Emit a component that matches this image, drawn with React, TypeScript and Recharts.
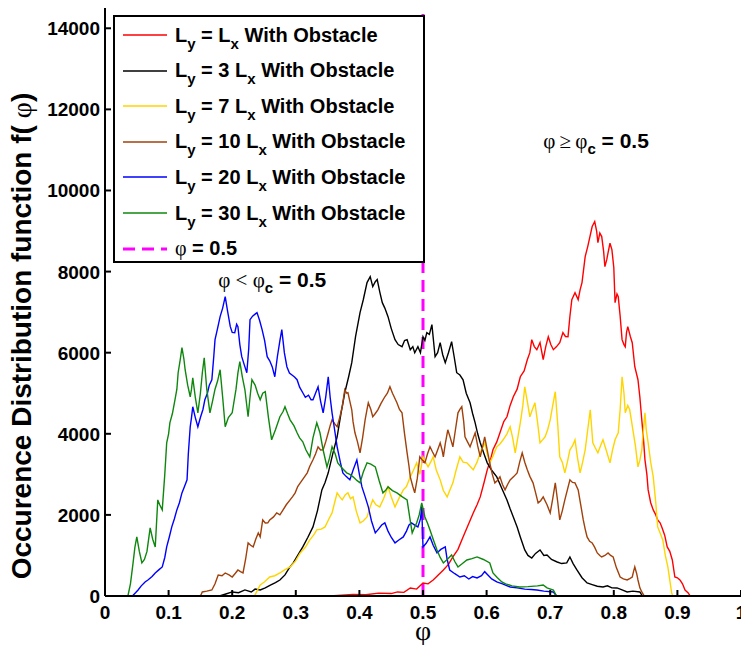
import React from 'react'
import { LineChart, Line, XAxis, YAxis, ReferenceLine, ReferenceDot, Legend } from 'recharts'

type Pt = [number, number]

const FONT = '"Liberation Sans", Arial, Helvetica, sans-serif'
const SYMBOL_FONT = '"Liberation Serif", "DejaVu Serif", serif'

const X_TICKS = [0, 0.1, 0.2, 0.3, 0.4, 0.5, 0.6, 0.7, 0.8, 0.9, 1]
const Y_TICKS = [0, 2000, 4000, 6000, 8000, 10000, 12000, 14000]
const Y_MAX = 14500
const PHI_C = 0.5

// occurrence counts f(phi) per channel aspect ratio, [phi, f]
const lyEq1: Pt[] = [
  [0, 0], [0.24, 0], [0.3, 0], [0.36, 10], [0.39, 40], [0.41, 30], [0.43, 70], [0.45, 60], [0.46, 100],
  [0.47, 90], [0.48, 198], [0.49, 170], [0.5, 321], [0.508, 300], [0.516, 395], [0.524, 520], [0.532, 642],
  [0.54, 780], [0.547, 963], [0.555, 1150], [0.563, 1457], [0.571, 1750], [0.579, 2049], [0.585, 2250],
  [0.59, 2444], [0.596, 2800], [0.601, 3111], [0.606, 3350], [0.61, 3605], [0.616, 3800], [0.621, 4025],
  [0.627, 4300], [0.632, 4420], [0.637, 4700], [0.642, 4913], [0.648, 5100], [0.653, 5407], [0.659, 5550],
  [0.664, 5827], [0.668, 6000], [0.671, 6321], [0.675, 6150], [0.679, 6074], [0.684, 6250], [0.689, 5827],
  [0.693, 6150], [0.697, 6395], [0.701, 6200], [0.705, 6074], [0.71, 6150], [0.715, 6247], [0.72, 6494],
  [0.724, 6400], [0.728, 6395], [0.731, 6900], [0.734, 7308], [0.739, 7481], [0.744, 7308], [0.747, 7550],
  [0.75, 7728], [0.755, 8370], [0.759, 8617], [0.763, 8900], [0.766, 9111], [0.77, 9234], [0.773, 9000],
  [0.775, 8716], [0.778, 8950], [0.781, 8864], [0.784, 8500], [0.786, 8123], [0.789, 8300], [0.791, 8469],
  [0.794, 8700], [0.797, 8543], [0.8, 8100], [0.802, 7234], [0.805, 7450], [0.807, 7382], [0.81, 6900],
  [0.813, 6321], [0.816, 6200], [0.818, 6148], [0.82, 6500], [0.822, 6642], [0.826, 6400], [0.829, 6247],
  [0.833, 5654], [0.838, 5333], [0.841, 4900], [0.844, 4345], [0.847, 3800], [0.849, 3358], [0.852, 3000],
  [0.854, 2617], [0.858, 2300], [0.862, 2123], [0.866, 2000], [0.869, 1876], [0.873, 1800], [0.876, 1679],
  [0.88, 1500], [0.884, 1210], [0.888, 1100], [0.892, 889], [0.896, 469], [0.9, 450], [0.904, 395],
  [0.908, 300], [0.912, 148], [0.917, 74], [0.92, 0], [1, 0],
]

const lyEq3: Pt[] = [
  [0, 0], [0.18, 0], [0.19, 50], [0.2, 100], [0.21, 80], [0.22, 150], [0.23, 100], [0.236, 170], [0.244, 148],
  [0.252, 200], [0.26, 270], [0.268, 330], [0.275, 395], [0.283, 520], [0.29, 700], [0.296, 815], [0.303, 1000],
  [0.311, 1210], [0.319, 1450], [0.327, 1704], [0.334, 2100], [0.341, 2617], [0.346, 2800], [0.351, 3037],
  [0.358, 3500], [0.365, 3926], [0.371, 4500], [0.377, 5012], [0.383, 5400], [0.388, 5753], [0.394, 6400],
  [0.401, 6988], [0.406, 7300], [0.412, 7728], [0.417, 7876], [0.421, 7629], [0.425, 7750], [0.428, 7802],
  [0.432, 7500], [0.436, 7234], [0.44, 7100], [0.445, 6889], [0.45, 6600], [0.456, 6321], [0.461, 6200],
  [0.467, 6148], [0.471, 6300], [0.475, 6321], [0.48, 6074], [0.484, 6150], [0.487, 5999], [0.492, 6148],
  [0.496, 6000], [0.5, 6395], [0.503, 6300], [0.506, 6494], [0.51, 6450], [0.514, 6691], [0.519, 5901],
  [0.523, 6000], [0.527, 6247], [0.531, 5950], [0.535, 5753], [0.54, 6000], [0.545, 6271], [0.549, 5900],
  [0.553, 5506], [0.558, 5450], [0.563, 5333], [0.568, 5000], [0.574, 4765], [0.578, 4500], [0.582, 4271],
  [0.586, 4000], [0.59, 3778], [0.596, 3500], [0.601, 3284], [0.608, 3100], [0.616, 2938], [0.624, 2650],
  [0.632, 2370], [0.637, 2150], [0.642, 1950], [0.648, 1700], [0.653, 1457], [0.66, 1136], [0.665, 1000],
  [0.671, 938], [0.677, 1050], [0.684, 1136], [0.69, 1000], [0.695, 1012], [0.702, 900], [0.711, 839],
  [0.718, 800], [0.726, 815], [0.731, 963], [0.736, 800], [0.742, 642], [0.75, 450], [0.758, 321],
  [0.766, 280], [0.774, 240], [0.783, 222], [0.79, 250], [0.797, 200], [0.805, 198], [0.813, 150],
  [0.821, 99], [0.83, 120], [0.841, 99], [0.845, 0], [1, 0],
]

const lyEq7: Pt[] = [
  [0, 0], [0.235, 0], [0.244, 272], [0.251, 350], [0.259, 469], [0.267, 500], [0.275, 568], [0.283, 650],
  [0.291, 716], [0.299, 850], [0.307, 1062], [0.315, 1200], [0.322, 1383], [0.328, 1500], [0.333, 1630],
  [0.34, 1650], [0.346, 1704], [0.352, 1900], [0.357, 2049], [0.361, 2300], [0.365, 2543], [0.369, 2450],
  [0.373, 2370], [0.378, 2500], [0.382, 2543], [0.386, 2400], [0.39, 2444], [0.395, 2100], [0.401, 1802],
  [0.406, 1850], [0.412, 1950], [0.417, 2200], [0.421, 2370], [0.426, 2250], [0.432, 2197], [0.438, 2400],
  [0.445, 2691], [0.45, 2450], [0.456, 2197], [0.462, 2400], [0.469, 2617], [0.474, 2700], [0.48, 2938],
  [0.485, 3100], [0.49, 3284], [0.495, 3000], [0.5, 3432], [0.504, 3300], [0.508, 3185], [0.512, 3300],
  [0.516, 3432], [0.521, 3100], [0.527, 2864], [0.532, 2600], [0.538, 2444], [0.542, 2600], [0.547, 2790],
  [0.552, 3100], [0.558, 3432], [0.563, 3300], [0.569, 3284], [0.574, 3200], [0.579, 3111], [0.585, 3300],
  [0.59, 3531], [0.597, 3778], [0.601, 3500], [0.605, 3284], [0.61, 3450], [0.616, 3679], [0.621, 3750],
  [0.626, 3852], [0.632, 4000], [0.637, 4173], [0.641, 3900], [0.645, 3531], [0.649, 3900], [0.653, 4271],
  [0.657, 4700], [0.66, 5160], [0.664, 4800], [0.668, 4420], [0.672, 4600], [0.676, 4765], [0.68, 4300],
  [0.684, 3778], [0.688, 3850], [0.692, 3926], [0.696, 4100], [0.7, 4345], [0.704, 4700], [0.708, 5037],
  [0.712, 4200], [0.715, 3432], [0.719, 3300], [0.723, 3037], [0.727, 3300], [0.731, 3605], [0.735, 3700],
  [0.739, 3852], [0.743, 3400], [0.747, 3037], [0.751, 3300], [0.755, 3605], [0.759, 4100], [0.763, 4592],
  [0.767, 3778], [0.771, 3650], [0.775, 3531], [0.779, 3700], [0.783, 3852], [0.788, 3600], [0.794, 3284],
  [0.798, 3600], [0.802, 3852], [0.807, 4025], [0.81, 4600], [0.813, 5407], [0.816, 5000], [0.818, 4518],
  [0.822, 4700], [0.825, 4592], [0.828, 4300], [0.83, 4098], [0.834, 3700], [0.838, 3185], [0.841, 3350],
  [0.844, 3605], [0.846, 4000], [0.849, 4518], [0.851, 4100], [0.854, 3778], [0.858, 3300], [0.862, 2938],
  [0.866, 2300], [0.869, 1704], [0.873, 1550], [0.877, 1383], [0.881, 1000], [0.885, 716], [0.888, 400],
  [0.891, 74], [0.893, 0], [1, 0],
]

const lyEq10: Pt[] = [
  [0, 0], [0.15, 0], [0.153, 99], [0.16, 120], [0.168, 148], [0.173, 300], [0.178, 518], [0.184, 500],
  [0.189, 568], [0.195, 520], [0.2, 469], [0.205, 560], [0.209, 642], [0.213, 600], [0.217, 568], [0.221, 900],
  [0.225, 1309], [0.229, 1250], [0.233, 1210], [0.237, 1400], [0.241, 1556], [0.244, 1457], [0.248, 1876],
  [0.252, 1800], [0.256, 1802], [0.259, 1876], [0.265, 1950], [0.27, 2049], [0.275, 2000], [0.28, 2123],
  [0.285, 2250], [0.291, 2370], [0.295, 2450], [0.299, 2543], [0.303, 2700], [0.307, 2790], [0.312, 2900],
  [0.318, 3037], [0.322, 3200], [0.327, 3358], [0.331, 3500], [0.335, 3679], [0.339, 3600], [0.343, 3605],
  [0.347, 3800], [0.351, 4025], [0.354, 4200], [0.357, 4345], [0.361, 4250], [0.365, 4173], [0.369, 4400],
  [0.373, 4667], [0.377, 5086], [0.38, 5000], [0.382, 5012], [0.385, 4800], [0.388, 4592], [0.39, 4300],
  [0.393, 4025], [0.397, 3800], [0.401, 3531], [0.405, 3900], [0.409, 4345], [0.412, 4600], [0.414, 4765],
  [0.418, 4600], [0.421, 4420], [0.425, 4500], [0.429, 4592], [0.434, 4750], [0.44, 4913], [0.444, 5000],
  [0.448, 5160], [0.452, 5000], [0.455, 4900], [0.459, 4765], [0.463, 4600], [0.467, 4518], [0.471, 4000],
  [0.475, 3531], [0.478, 3200], [0.48, 2938], [0.484, 2700], [0.487, 2543], [0.491, 2900], [0.495, 3432],
  [0.499, 3350], [0.503, 3284], [0.507, 3500], [0.511, 3679], [0.515, 3550], [0.519, 3432], [0.523, 3600],
  [0.527, 3778], [0.53, 3600], [0.532, 3432], [0.535, 3750], [0.539, 4098], [0.543, 3900], [0.547, 3679],
  [0.551, 4100], [0.555, 4518], [0.558, 4600], [0.561, 4667], [0.564, 4300], [0.566, 3926], [0.57, 3800],
  [0.574, 3679], [0.578, 3850], [0.582, 4025], [0.586, 3700], [0.59, 3432], [0.594, 3700], [0.597, 3926],
  [0.601, 3600], [0.605, 3284], [0.609, 3000], [0.613, 2790], [0.617, 2850], [0.621, 2938], [0.625, 2750],
  [0.629, 2617], [0.633, 2750], [0.637, 2864], [0.643, 2950], [0.648, 3037], [0.652, 3300], [0.656, 3531],
  [0.66, 3300], [0.664, 3111], [0.668, 2950], [0.673, 2790], [0.677, 2550], [0.681, 2296], [0.685, 2350],
  [0.689, 2444], [0.695, 2250], [0.7, 2049], [0.704, 2400], [0.708, 2790], [0.712, 2300], [0.715, 1876],
  [0.719, 2100], [0.723, 2370], [0.727, 2617], [0.731, 2864], [0.735, 2800], [0.739, 2790], [0.744, 2617],
  [0.748, 2250], [0.752, 1876], [0.755, 1650], [0.758, 1457], [0.762, 1350], [0.766, 1309], [0.77, 1200],
  [0.774, 1062], [0.778, 1000], [0.781, 963], [0.786, 1000], [0.791, 1062], [0.795, 1000], [0.799, 963],
  [0.804, 700], [0.81, 469], [0.815, 420], [0.821, 395], [0.825, 430], [0.829, 469], [0.831, 600],
  [0.833, 716], [0.836, 550], [0.838, 395], [0.841, 200], [0.844, 99], [0.848, 0], [1, 0],
]

const lyEq20: Pt[] = [
  [0, 0], [0.043, 0], [0.048, 80], [0.052, 148], [0.057, 250], [0.063, 346], [0.068, 400], [0.074, 480],
  [0.079, 568], [0.085, 650], [0.09, 716], [0.094, 950], [0.097, 1210], [0.101, 1450], [0.105, 1704],
  [0.109, 1900], [0.113, 2123], [0.117, 2300], [0.121, 2543], [0.125, 2700], [0.129, 2864], [0.131, 3500],
  [0.134, 4173], [0.136, 4400], [0.138, 4667], [0.142, 4400], [0.146, 4173], [0.15, 4400], [0.154, 4600],
  [0.157, 4839], [0.161, 5000], [0.164, 5200], [0.168, 5333], [0.171, 5900], [0.173, 6321], [0.177, 6600],
  [0.181, 6889], [0.185, 7100], [0.189, 7383], [0.193, 7000], [0.197, 6642], [0.2, 6500], [0.204, 6494],
  [0.207, 6700], [0.209, 6642], [0.212, 6200], [0.215, 5901], [0.219, 5700], [0.223, 5506], [0.226, 6100],
  [0.228, 6815], [0.232, 6900], [0.236, 6950], [0.239, 6988], [0.243, 6800], [0.247, 6568], [0.251, 6300],
  [0.255, 5901], [0.259, 5800], [0.263, 5650], [0.267, 5407], [0.271, 5900], [0.275, 6300], [0.278, 6568],
  [0.282, 6000], [0.286, 5654], [0.29, 5500], [0.294, 5450], [0.298, 5400], [0.302, 5333], [0.306, 5150],
  [0.311, 5012], [0.315, 4900], [0.32, 4950], [0.324, 4839], [0.327, 4839], [0.331, 5000], [0.335, 5160],
  [0.339, 4800], [0.343, 4518], [0.347, 4900], [0.351, 5407], [0.354, 4900], [0.357, 4518], [0.361, 4100],
  [0.365, 3679], [0.37, 3300], [0.374, 3037], [0.379, 2950], [0.385, 2864], [0.39, 3100], [0.396, 3358],
  [0.4, 3000], [0.404, 2691], [0.409, 2450], [0.414, 2197], [0.419, 1850], [0.425, 1556], [0.43, 1650],
  [0.435, 1750], [0.44, 1802], [0.445, 1600], [0.45, 1450], [0.456, 1309], [0.462, 1380], [0.469, 1457],
  [0.474, 1600], [0.478, 1750], [0.482, 1802], [0.487, 1750], [0.492, 1704], [0.496, 1900], [0.498, 2197],
  [0.5, 1210], [0.505, 1300], [0.511, 1457], [0.516, 1250], [0.522, 1062], [0.528, 1150], [0.535, 1210],
  [0.538, 900], [0.542, 642], [0.55, 550], [0.558, 469], [0.565, 500], [0.572, 420], [0.578, 480],
  [0.585, 444], [0.592, 500], [0.597, 600], [0.602, 518], [0.608, 420], [0.616, 346], [0.625, 300],
  [0.637, 222], [0.648, 200], [0.66, 170], [0.67, 160], [0.679, 148], [0.69, 120], [0.705, 99], [0.71, 0],
  [1, 0],
]

const lyEq30: Pt[] = [
  [0, 0], [0.036, 0], [0.04, 300], [0.044, 800], [0.047, 1200], [0.05, 1457], [0.054, 1100], [0.058, 815],
  [0.062, 900], [0.066, 1100], [0.071, 1679], [0.075, 1400], [0.079, 1210], [0.083, 2370], [0.086, 2250],
  [0.09, 2123], [0.094, 3000], [0.097, 3778], [0.1, 4000], [0.102, 4271], [0.106, 4500], [0.11, 4839],
  [0.113, 5100], [0.115, 5506], [0.118, 5800], [0.121, 6123], [0.124, 5850], [0.126, 5580], [0.13, 5200],
  [0.134, 4913], [0.136, 5100], [0.138, 5382], [0.142, 4900], [0.146, 4518], [0.15, 5000], [0.153, 5500],
  [0.156, 5876], [0.16, 5100], [0.165, 4518], [0.169, 4800], [0.173, 5100], [0.177, 5300], [0.181, 5580],
  [0.185, 4900], [0.189, 4173], [0.194, 4400], [0.2, 4518], [0.206, 5100], [0.209, 5500], [0.212, 5777],
  [0.216, 5400], [0.22, 5086], [0.225, 4420], [0.228, 4900], [0.231, 5333], [0.236, 5200], [0.24, 5000],
  [0.244, 4839], [0.248, 5000], [0.252, 5037], [0.257, 4400], [0.262, 3852], [0.268, 4100], [0.275, 4420],
  [0.28, 4550], [0.283, 4667], [0.287, 4500], [0.291, 4345], [0.297, 4200], [0.302, 4025], [0.306, 3900],
  [0.311, 3802], [0.316, 3600], [0.322, 3432], [0.327, 3900], [0.333, 4271], [0.338, 4025], [0.343, 3600],
  [0.349, 3185], [0.353, 3400], [0.357, 3679], [0.362, 3500], [0.366, 3284], [0.373, 3150], [0.38, 3037],
  [0.385, 3000], [0.39, 2938], [0.396, 2850], [0.401, 2790], [0.406, 3050], [0.412, 3284], [0.418, 3250],
  [0.425, 3185], [0.431, 2850], [0.437, 2543], [0.441, 2600], [0.445, 2691], [0.452, 2600], [0.459, 2543],
  [0.467, 2450], [0.475, 2370], [0.479, 1950], [0.483, 1556], [0.487, 1700], [0.49, 1802], [0.494, 2000],
  [0.498, 2296], [0.503, 1950], [0.507, 1800], [0.511, 1630], [0.516, 1400], [0.522, 1136], [0.527, 950],
  [0.532, 815], [0.538, 900], [0.545, 1012], [0.55, 850], [0.555, 716], [0.562, 800], [0.569, 889],
  [0.577, 920], [0.585, 963], [0.595, 900], [0.605, 815], [0.61, 568], [0.617, 450], [0.624, 346],
  [0.63, 300], [0.64, 250], [0.652, 222], [0.665, 230], [0.68, 250], [0.689, 272], [0.695, 200],
  [0.705, 148], [0.71, 0], [1, 0],
]

const SERIES = [
  { key: 'ly1', factor: '', points: lyEq1, color: '#ff0000' },
  { key: 'ly3', factor: '3 ', points: lyEq3, color: '#000000' },
  { key: 'ly7', factor: '7 ', points: lyEq7, color: '#ffd500' },
  { key: 'ly10', factor: '10 ', points: lyEq10, color: '#a0400a' },
  { key: 'ly20', factor: '20 ', points: lyEq20, color: '#0000ff' },
  { key: 'ly30', factor: '30 ', points: lyEq30, color: '#0f870f' },
]

const toRows = (pts: Pt[]) => pts.map(([phi, f]) => ({ phi, f }))

const fmtX = (v: number) => (v === 0 || v === 1 ? String(v) : v.toFixed(1))

// ticks point into the plot box on all four sides, MATLAB style
function BottomTick({ x, y, payload }: any) {
  return (
    <g>
      <line x1={x} x2={x} y1={y} y2={y - 6} stroke="#000" strokeWidth={2} />
      <text x={x} y={y + 23} textAnchor="middle" fontFamily={FONT} fontWeight="bold" fontSize={19} fill="#000">
        {fmtX(payload.value)}
      </text>
    </g>
  )
}

function TopTick({ x, y }: any) {
  return <line x1={x} x2={x} y1={y} y2={y + 6} stroke="#000" strokeWidth={2} />
}

function LeftTick({ x, y, payload }: any) {
  return (
    <g>
      <line x1={x} x2={x + 6} y1={y} y2={y} stroke="#000" strokeWidth={2} />
      <text x={x - 5} y={y + 7} textAnchor="end" fontFamily={FONT} fontWeight="bold" fontSize={19} fill="#000">
        {payload.value}
      </text>
    </g>
  )
}

function RightTick({ x, y }: any) {
  return <line x1={x - 6} x2={x} y1={y} y2={y} stroke="#000" strokeWidth={2} />
}

function YTitle() {
  return (
    <text
      transform="translate(31, 336) rotate(-90)"
      textAnchor="middle"
      fontFamily={FONT}
      fontWeight="bold"
      fontSize={28}
      fill="#000"
    >
      Occurence Distribution function f(
      <tspan fontFamily={SYMBOL_FONT} fontWeight="normal"> φ</tspan>)
    </text>
  )
}

function XTitle({ viewBox }: any) {
  const cx = viewBox.x + viewBox.width / 2
  return (
    <text x={cx} y={640} textAnchor="middle" fontFamily={SYMBOL_FONT} fontSize={28} fill="#000">
      φ
    </text>
  )
}

function PhaseNote({ cx, cy, rel }: { cx: number; cy: number; rel: string }) {
  return (
    <text x={cx} y={cy} fontFamily={FONT} fontSize={21} fill="#000">
      <tspan fontFamily={SYMBOL_FONT}>{rel}</tspan>
      <tspan dy={6} fontSize={15} fontWeight="bold">c</tspan>
      <tspan dy={-6} fontWeight="bold"> = 0.5</tspan>
    </text>
  )
}

const Sub = ({ children }: { children: React.ReactNode }) => (
  <span style={{ fontSize: 15, position: 'relative', top: 7 }}>{children}</span>
)

function LegendBox() {
  const rowTop = (i: number) => 18 + i * 35.6 - 14
  return (
    <div
      style={{
        position: 'relative',
        width: 308,
        height: 244,
        border: '2px solid #000',
        background: '#fff',
        fontFamily: FONT,
        fontWeight: 'bold',
        fontSize: 20,
        color: '#000',
      }}
    >
      {SERIES.map((s, i) => (
        <div key={s.key} style={{ position: 'absolute', left: 0, top: rowTop(i), height: 28, display: 'flex', alignItems: 'center', whiteSpace: 'nowrap' }}>
          <svg width={60} height={28} style={{ display: 'block' }}>
            <line x1={8} x2={52} y1={14} y2={14} stroke={s.color} strokeWidth={1.5} />
          </svg>
          <span>
            L<Sub>y</Sub> = {s.factor}L<Sub>x</Sub> With Obstacle
          </span>
        </div>
      ))}
      <div style={{ position: 'absolute', left: 0, top: rowTop(6), height: 28, display: 'flex', alignItems: 'center', whiteSpace: 'nowrap' }}>
        <svg width={60} height={28} style={{ display: 'block' }}>
          <line x1={8} x2={52} y1={14} y2={14} stroke="#ff00ff" strokeWidth={3} strokeDasharray="12 7" />
        </svg>
        <span>
          <span style={{ fontFamily: SYMBOL_FONT, fontWeight: 'normal' }}>φ</span> = 0.5
        </span>
      </div>
    </div>
  )
}

export default function App() {
  return (
    <div style={{ position: 'absolute', left: 0, top: 0, width: 741, height: 645, overflow: 'hidden', background: '#fff' }}>
      <LineChart width={760} height={645} margin={{ top: 8, right: 19, bottom: 0, left: 0 }}>
        <XAxis
          xAxisId={0}
          dataKey="phi"
          type="number"
          domain={[0, 1]}
          ticks={X_TICKS}
          interval={0}
          height={49}
          tickSize={0}
          tickMargin={0}
          tickLine={false}
          tick={<BottomTick />}
          axisLine={{ stroke: '#000', strokeWidth: 2 }}
          label={(p: any) => <XTitle {...p} />}
        />
        <XAxis
          xAxisId="top"
          orientation="top"
          type="number"
          domain={[0, 1]}
          ticks={X_TICKS}
          interval={0}
          height={0}
          tickSize={0}
          tickMargin={0}
          tickLine={false}
          tick={<TopTick />}
          axisLine={{ stroke: '#000', strokeWidth: 2 }}
        />
        <YAxis
          yAxisId={0}
          type="number"
          domain={[0, Y_MAX]}
          ticks={Y_TICKS}
          interval={0}
          width={105}
          tickSize={0}
          tickMargin={0}
          tickLine={false}
          tick={<LeftTick />}
          axisLine={{ stroke: '#000', strokeWidth: 2 }}
          label={() => <YTitle />}
        />
        <YAxis
          yAxisId="right"
          orientation="right"
          type="number"
          domain={[0, Y_MAX]}
          ticks={Y_TICKS}
          interval={0}
          width={0}
          tickSize={0}
          tickMargin={0}
          tickLine={false}
          tick={<RightTick />}
          axisLine={{ stroke: '#000', strokeWidth: 2 }}
        />
        <ReferenceLine x={PHI_C} stroke="#ff00ff" strokeWidth={3} strokeDasharray="12 7" />
        {SERIES.map((s) => (
          <Line
            key={s.key}
            data={toRows(s.points)}
            dataKey="f"
            type="linear"
            stroke={s.color}
            strokeWidth={1.4}
            dot={false}
            activeDot={false}
            isAnimationActive={false}
          />
        ))}
        <ReferenceDot x={0.178} y={7629} r={0} shape={(p: any) => <PhaseNote cx={p.cx} cy={p.cy} rel="φ < φ" />} />
        <ReferenceDot x={0.689} y={11036} r={0} shape={(p: any) => <PhaseNote cx={p.cx} cy={p.cy} rel={'φ\u2009≥\u2009φ'} />} />
        <Legend
          layout="horizontal"
          verticalAlign="middle"
          align="center"
          wrapperStyle={{ left: 113, top: 15, width: 312, height: 248 }}
          content={() => <LegendBox />}
        />
      </LineChart>
    </div>
  )
}
